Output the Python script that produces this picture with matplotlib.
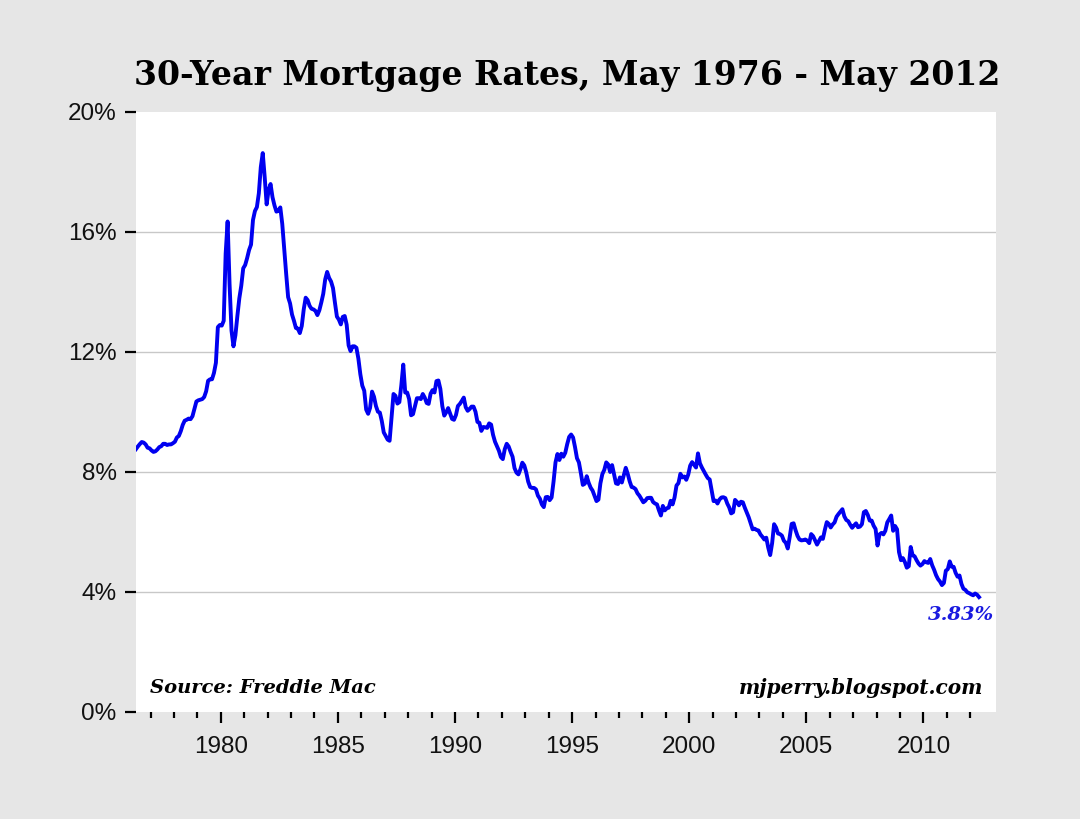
import numpy as np
import matplotlib
matplotlib.use("Agg")
import matplotlib.pyplot as plt
from matplotlib.ticker import FixedLocator, FuncFormatter

# Monthly 30-year fixed mortgage rates (%), May 1976 - May 2012
r1976 = [8.76, 8.85, 8.93, 9.00, 8.98, 8.92, 8.81, 8.79]  # May-Dec
r1977_1979 = [
    8.72, 8.67, 8.69, 8.75, 8.83, 8.86, 8.94, 8.94, 8.90, 8.92, 8.92, 8.96,
    9.01, 9.15, 9.20, 9.36, 9.57, 9.71, 9.74, 9.78, 9.76, 9.86, 10.11, 10.35,
    10.39, 10.41, 10.43, 10.50, 10.69, 11.04, 11.09, 11.09, 11.30, 11.64, 12.83, 12.90,
]
r1980s = [
    12.88, 13.04, 15.28, 16.35, 14.26, 12.71, 12.19, 12.56, 13.20, 13.79, 14.21, 14.79,
    14.90, 15.13, 15.40, 15.58, 16.40, 16.70, 16.83, 17.29, 18.16, 18.63, 17.83, 16.92,
    17.40, 17.60, 17.16, 16.89, 16.68, 16.70, 16.82, 16.27, 15.43, 14.61, 13.83, 13.62,
    13.25, 13.04, 12.80, 12.78, 12.63, 12.87, 13.42, 13.81, 13.73, 13.54, 13.44, 13.42,
    13.37, 13.23, 13.39, 13.65, 13.94, 14.42, 14.67, 14.47, 14.35, 14.13, 13.64, 13.18,
    13.08, 12.92, 13.17, 13.20, 12.91, 12.22, 12.03, 12.19, 12.19, 12.14, 11.78, 11.26,
    10.88, 10.71, 10.08, 9.94, 10.14, 10.68, 10.51, 10.20, 10.01, 9.98, 9.70, 9.32,
    9.20, 9.08, 9.04, 9.83, 10.60, 10.54, 10.28, 10.33, 10.89, 11.58, 10.65, 10.65,
    10.43, 9.89, 9.93, 10.20, 10.46, 10.46, 10.43, 10.60, 10.48, 10.30, 10.27, 10.61,
    10.73, 10.65, 11.03, 11.05, 10.77, 10.20, 9.88, 9.99, 10.13, 9.95, 9.77, 9.74,
]
r1990s = [
    9.90, 10.20, 10.27, 10.37, 10.48, 10.16, 10.04, 10.10, 10.18, 10.18, 10.01, 9.67,
    9.64, 9.37, 9.50, 9.49, 9.47, 9.62, 9.58, 9.24, 9.01, 8.86, 8.71, 8.50,
    8.43, 8.76, 8.94, 8.85, 8.67, 8.51, 8.13, 7.98, 7.92, 8.09, 8.31, 8.22,
    7.99, 7.68, 7.50, 7.47, 7.47, 7.42, 7.21, 7.11, 6.92, 6.83, 7.16, 7.17,
    7.06, 7.15, 7.68, 8.32, 8.60, 8.40, 8.61, 8.51, 8.64, 8.93, 9.17, 9.25,
    9.15, 8.83, 8.46, 8.32, 7.96, 7.57, 7.61, 7.86, 7.64, 7.48, 7.38, 7.20,
    7.03, 7.08, 7.62, 7.93, 8.07, 8.32, 8.25, 8.00, 8.23, 7.92, 7.62, 7.60,
    7.82, 7.65, 7.90, 8.14, 7.94, 7.69, 7.50, 7.48, 7.43, 7.29, 7.21, 7.10,
    6.99, 7.04, 7.13, 7.14, 7.14, 7.00, 6.95, 6.92, 6.72, 6.55, 6.87, 6.72,
    6.79, 6.81, 7.04, 6.92, 7.15, 7.55, 7.63, 7.94, 7.82, 7.85, 7.74, 7.91,
]
r2000s = [
    8.21, 8.33, 8.24, 8.15, 8.62, 8.29, 8.15, 8.03, 7.91, 7.80, 7.75, 7.38,
    7.03, 7.05, 6.95, 7.08, 7.15, 7.16, 7.13, 6.95, 6.82, 6.62, 6.66, 7.07,
    7.00, 6.89, 7.01, 6.99, 6.81, 6.65, 6.49, 6.29, 6.09, 6.11, 6.07, 6.05,
    5.92, 5.84, 5.75, 5.81, 5.48, 5.23, 5.63, 6.26, 6.15, 5.95, 5.93, 5.88,
    5.71, 5.64, 5.45, 5.83, 6.27, 6.29, 6.06, 5.87, 5.75, 5.72, 5.73, 5.75,
    5.71, 5.63, 5.93, 5.86, 5.72, 5.58, 5.70, 5.82, 5.77, 6.07, 6.33, 6.27,
    6.15, 6.25, 6.32, 6.51, 6.60, 6.68, 6.76, 6.52, 6.40, 6.36, 6.24, 6.14,
    6.22, 6.29, 6.16, 6.18, 6.26, 6.66, 6.70, 6.57, 6.38, 6.38, 6.21, 6.10,
    5.55, 5.92, 5.97, 5.92, 6.04, 6.32, 6.43, 6.55, 6.04, 6.20, 6.09, 5.33,
    5.06, 5.13, 5.00, 4.81, 4.86, 5.50, 5.22, 5.19, 5.06, 4.95, 4.88, 4.93,
]
r2010s = [
    5.03, 4.99, 4.97, 5.10, 4.89, 4.74, 4.56, 4.43, 4.35, 4.23, 4.30, 4.71,
    4.76, 5.02, 4.84, 4.84, 4.64, 4.51, 4.55, 4.27, 4.11, 4.07, 3.99, 3.96,
    3.92, 3.89, 3.95, 3.91, 3.83,
]

rates = np.array(r1976 + r1977_1979 + r1980s + r1990s + r2000s + r2010s)
start_year, start_month = 1976, 5
x = start_year + (start_month - 1 + np.arange(len(rates)) + 0.5) / 12.0

y_ticks = [0, 4, 8, 12, 16, 20]
x_major = [1980, 1985, 1990, 1995, 2000, 2005, 2010]
x_minor = list(range(1977, 2013))

title = "30-Year Mortgage Rates, May 1976 - May 2012"
last_label = "3.83%"

bg = "#e6e6e6"
fig = plt.figure(figsize=(10.8, 8.19), dpi=100, facecolor=bg)
ax = fig.add_axes([136/1080, 1-712/819, (996-136)/1080, 600/819])
ax.set_facecolor("white")

for s in ax.spines.values():
    s.set_visible(False)

for g in [4, 8, 12, 16]:
    ax.axhline(g, color="#c8c8c8", lw=1, zorder=1)

ax.plot(x, rates, color="#0000f0", lw=2.8, solid_joinstyle="round", zorder=3)

ax.set_xlim(1976.38, 2013.1)
ax.set_ylim(0, 20)

ax.yaxis.set_major_locator(FixedLocator(y_ticks))
ax.yaxis.set_major_formatter(FuncFormatter(lambda v, p: f"{int(v)}%"))
ax.xaxis.set_major_locator(FixedLocator(x_major))
ax.xaxis.set_minor_locator(FixedLocator([m for m in x_minor if m not in x_major]))
ax.xaxis.set_major_formatter(FuncFormatter(lambda v, p: f"{int(v)}"))

ax.tick_params(axis="y", length=8, width=1.6, color="black", pad=6,
               labelsize=17.5, labelcolor="#111111")
ax.tick_params(axis="x", which="major", length=8, width=1.6, color="black", pad=9,
               labelsize=17.5, labelcolor="#111111")
ax.tick_params(axis="x", which="minor", length=4.5, width=1.6, color="black")
for lab in ax.get_xticklabels() + ax.get_yticklabels():
    lab.set_fontfamily("Liberation Sans")

fig.text(567/1080, 1-76/819, title, ha="center", va="center",
         fontsize=23.9, fontweight="bold", family="DejaVu Serif", color="black")

fig.text(150/1080, 1-688/819, "Source: Freddie Mac", ha="left", va="center",
         fontsize=14, fontweight="bold", fontstyle="italic", family="DejaVu Serif")
fig.text(983/1080, 1-688/819, "mjperry.blogspot.com", ha="right", va="center",
         fontsize=14.5, fontweight="bold", fontstyle="italic", family="DejaVu Serif")
fig.text(961/1080, 1-615/819, last_label, ha="center", va="center",
         fontsize=14, fontweight="bold", fontstyle="italic", family="DejaVu Serif",
         color="#1a1ae0")

fig.savefig("out.png", dpi=100, facecolor=bg)
